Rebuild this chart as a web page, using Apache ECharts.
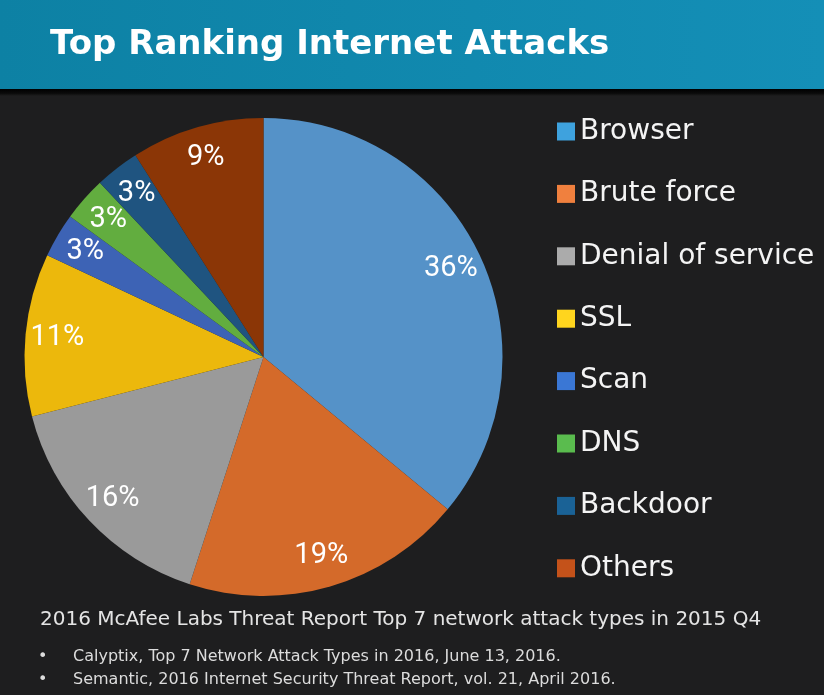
<!DOCTYPE html>
<html>
<head>
<meta charset="utf-8">
<script src="https://cdn.jsdelivr.net/npm/echarts@6/dist/echarts.min.js"></script>
<style>
html,body{margin:0;padding:0;background:#1e1e1f;}
#chart{width:824px;height:695px;}
</style>
</head>
<body>
<div id="chart"></div>
<script>
const titleText = 'Top Ranking Internet Attacks';
const categories = ['Browser', 'Brute force', 'Denial of service', 'SSL', 'Scan', 'DNS', 'Backdoor', 'Others'];
const values = [36, 19, 16, 11, 3, 3, 3, 9];
const sliceColors = ['#5592c8', '#d46a2a', '#9a9a9a', '#ecb80c', '#3d63b5', '#62ad3f', '#1f5480', '#8b3606'];
const legendColors = ['#3ea2de', '#f0803e', '#ababab', '#ffd51e', '#3a77d5', '#5abc4e', '#1a6296', '#c4521a'];
const sourceLine = '2016 McAfee Labs Threat Report Top 7 network attack types in 2015 Q4';
const references = [
  'Calyptix, Top 7 Network Attack Types in 2016, June 13, 2016.',
  'Semantic, 2016 Internet Security Threat Report, vol. 21, April 2016.'
];

const pieData = categories.map((name, i) => ({ name: name, value: values[i], itemStyle: { color: sliceColors[i] } }));
const labelData = categories.map((name, i) => ({ name: name, value: values[i] }));

const chart = echarts.init(document.getElementById('chart'), null, { renderer: 'canvas' });

const graphics = [
  {
    type: 'rect', z: 0, silent: true,
    shape: { x: 0, y: 0, width: 824, height: 89 },
    style: { fill: new echarts.graphic.LinearGradient(0, 0, 1, 0, [
      { offset: 0, color: '#0d81a4' }, { offset: 1, color: '#148fb7' }
    ]) }
  },
  {
    type: 'rect', z: 0, silent: true,
    shape: { x: 0, y: 89, width: 824, height: 7 },
    style: { fill: new echarts.graphic.LinearGradient(0, 0, 0, 1, [
      { offset: 0, color: '#000000' }, { offset: 0.6, color: '#0a0a0a' }, { offset: 1, color: '#1e1e1f' }
    ]) }
  },
  {
    type: 'text', z: 2, silent: true, x: 50, y: 45,
    style: { text: titleText, fill: '#ffffff', fontSize: 34, fontWeight: 'bold', fontFamily: 'DejaVu Sans', verticalAlign: 'middle' }
  },
  {
    type: 'text', z: 2, silent: true, x: 40, y: 620,
    style: { text: sourceLine, fill: '#e4e4e4', fontSize: 20, fontFamily: 'DejaVu Sans', verticalAlign: 'middle' }
  }
];
references.forEach((t, i) => {
  const y = 657 + i * 22.5;
  graphics.push({
    type: 'text', z: 2, silent: true, x: 38, y: y,
    style: { text: '\u2022', fill: '#dcdcdc', fontSize: 16, fontFamily: 'DejaVu Sans', verticalAlign: 'middle' }
  });
  graphics.push({
    type: 'text', z: 2, silent: true, x: 73, y: y,
    style: { text: t, fill: '#dcdcdc', fontSize: 16, fontFamily: 'DejaVu Sans', verticalAlign: 'middle' }
  });
});

chart.setOption({
  backgroundColor: '#1e1e1f',
  animation: false,
  graphic: graphics,
  legend: {
    orient: 'vertical',
    left: 557,
    top: 117.5,
    padding: 0,
    icon: 'rect',
    itemWidth: 18,
    itemHeight: 18,
    itemGap: 34.4,
    selectedMode: false,
    textStyle: { color: '#f4f4f4', fontSize: 28, lineHeight: 28, fontFamily: 'DejaVu Sans' },
    data: categories.map((name, i) => ({ name: name, itemStyle: { color: legendColors[i] } }))
  },
  series: [
    {
      type: 'pie',
      name: 'attacks',
      center: [263.5, 357],
      radius: [0, 239],
      startAngle: 90,
      clockwise: true,
      silent: true,
      label: { show: false },
      labelLine: { show: false },
      itemStyle: { borderWidth: 0 },
      emphasis: { disabled: true },
      data: pieData
    },
    {
      type: 'pie',
      name: 'labels',
      center: [263.5, 357],
      radius: [169, 239],
      startAngle: 90,
      clockwise: true,
      silent: true,
      z: 3,
      avoidLabelOverlap: false,
      minShowLabelAngle: 0,
      legendHoverLink: false,
      labelLayout: { hideOverlap: false },
      itemStyle: { color: 'rgba(0,0,0,0)', borderWidth: 0 },
      emphasis: { disabled: true },
      labelLine: { show: false },
      label: {
        show: true,
        position: 'inside',
        formatter: '{c}%',
        color: '#ffffff',
        fontSize: 29,
        fontFamily: 'Roboto',
        textBorderWidth: 0
      },
      data: labelData
    }
  ]
});
</script>
</body>
</html>
